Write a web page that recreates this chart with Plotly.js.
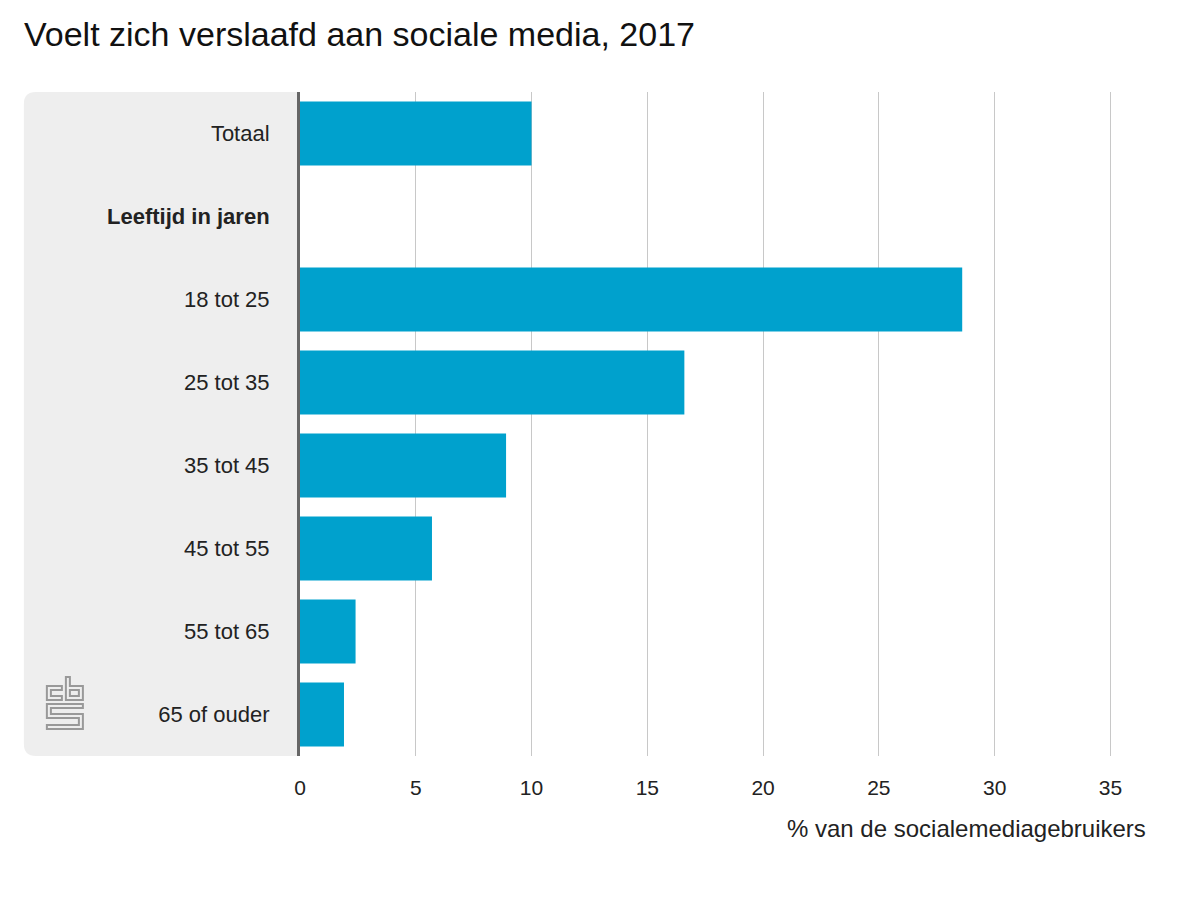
<!DOCTYPE html>
<html>
<head>
<meta charset="utf-8">
<script src="https://cdn.plot.ly/plotly-3.0.1.min.js"></script>
<style>html,body{margin:0;padding:0;background:#fff;}#chart{width:1200px;height:900px;}</style>
</head>
<body>
<div id="chart"></div>
<script>
const categories = ["Totaal", "Leeftijd in jaren", "18 tot 25", "25 tot 35", "35 tot 45", "45 tot 55", "55 tot 65", "65 of ouder"];
const tickLabels = ["Totaal", "<b>Leeftijd in jaren</b>", "18 tot 25", "25 tot 35", "35 tot 45", "45 tot 55", "55 tot 65", "65 of ouder"];
const values = [10.0, null, 28.6, 16.6, 8.9, 5.7, 2.4, 1.9];
const xTicks = [0, 5, 10, 15, 20, 25, 30, 35];
const titleText = "Voelt zich verslaafd aan sociale media, 2017";
const xTitleText = "% van de socialemediagebruikers";

const W = 1200, H = 900;
const L = 300, R = 1114.6, T = 92, B = 756;
const px = x => (x - L) / (R - L);
const py = y => (B - y) / (B - T);
function path(cmds) {
  return cmds.map(c => c[0] === 'Z' ? 'Z' : c[0] + ' ' + px(c[1]).toFixed(5) + ',' + py(c[2]).toFixed(5)).join(' ');
}

const rad = 12;
function qpath() {
  const p = (x, y) => px(x).toFixed(5) + ',' + py(y).toFixed(5);
  return 'M ' + p(300, T) + ' L ' + p(24 + rad, T) + ' Q ' + p(24, T) + ' ' + p(24, T + rad) +
    ' L ' + p(24, B - rad) + ' Q ' + p(24, B) + ' ' + p(24 + rad, B) + ' L ' + p(300, B) + ' Z';
}

const logoC = path([['M',62,686],['L',47,686],['L',47,700],['L',62,700],['L',62,696],['L',51,696],['L',51,690],['L',62,690],['Z']]);
const logoB = path([['M',66,677],['L',66,700],['L',83,700],['L',83,686],['L',70,686],['L',70,677],['Z']]);
const logoBi = path([['M',70,690],['L',79,690],['L',79,696],['L',70,696],['Z']]);
const logoS = path([['M',83,704],['L',47,704],['L',47,718],['L',79,718],['L',79,725],['L',47,725],['L',47,729],['L',83,729],['L',83,714],['L',51,714],['L',51,708],['L',83,708],['Z']]);

const logoStyle = {type: 'path', xref: 'paper', yref: 'paper', line: {color: '#999999', width: 2}, fillcolor: 'rgba(0,0,0,0)', layer: 'above'};

const data = [{
  type: 'bar',
  orientation: 'h',
  y: categories,
  x: values,
  marker: {color: '#00a1cd'},
  hoverinfo: 'x+y'
}];

const layout = {
  width: W, height: H,
  margin: {l: L, r: W - R, t: T, b: H - B, pad: 0},
  paper_bgcolor: '#ffffff',
  plot_bgcolor: '#ffffff',
  font: {family: 'Liberation Sans, Arial, sans-serif', size: 22, color: '#222222'},
  title: {text: titleText, x: 24 / W, xanchor: 'left', xref: 'container', y: 1 - 34 / H, yanchor: 'middle', yref: 'container', font: {size: 34, color: '#111111'}},
  bargap: 0.23,
  showlegend: false,
  xaxis: {
    range: [0, (R - L) / (810 / 35)],
    tickvals: xTicks,
    ticktext: xTicks.map(String),
    showgrid: true, gridcolor: '#c8c8c8', gridwidth: 1,
    zeroline: false, showline: false,
    ticks: 'outside', ticklen: 13, tickcolor: 'rgba(0,0,0,0)',
    tickfont: {size: 21, color: '#222222'},
    fixedrange: true
  },
  yaxis: {
    type: 'category',
    categoryorder: 'array',
    categoryarray: categories,
    tickvals: categories,
    ticktext: tickLabels,
    autorange: 'reversed',
    showgrid: false, zeroline: false,
    showline: true, linecolor: '#666666', linewidth: 3,
    ticks: 'outside', ticklen: 23, tickcolor: 'rgba(0,0,0,0)',
    tickfont: {size: 22, color: '#222222'},
    fixedrange: true
  },
  shapes: [
    {type: 'path', xref: 'paper', yref: 'paper', path: qpath(), fillcolor: '#eeeeee', line: {width: 0}, layer: 'below'},
    Object.assign({path: logoC}, logoStyle),
    Object.assign({path: logoB}, logoStyle),
    Object.assign({path: logoBi}, logoStyle),
    Object.assign({path: logoS}, logoStyle)
  ],
  annotations: [{
    text: xTitleText, xref: 'paper', yref: 'paper',
    x: px(1148), xanchor: 'right', y: py(828), yanchor: 'middle',
    showarrow: false, font: {size: 24, color: '#222222'}
  }]
};

Plotly.newPlot('chart', data, layout, {displayModeBar: false, staticPlot: true});
</script>
</body>
</html>
